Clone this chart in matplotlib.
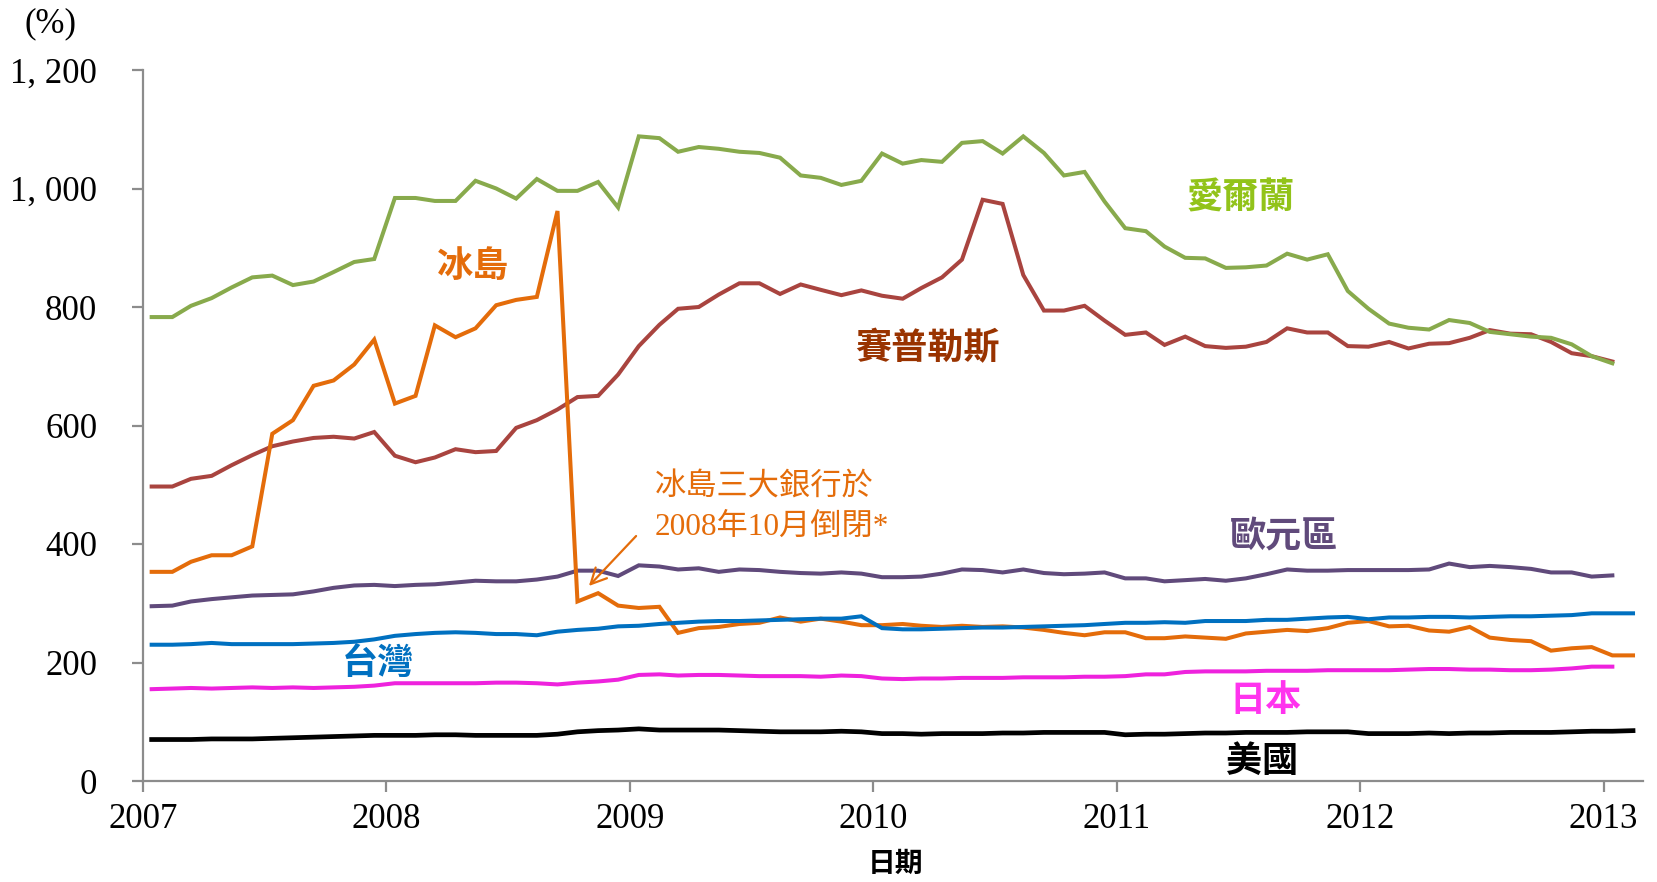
import pandas as pd
import matplotlib
matplotlib.use('Agg')
import matplotlib.pyplot as plt
import matplotlib.dates as mdates
from matplotlib.ticker import FuncFormatter

# monthly observations, Jan 2007 - Feb 2013
months = pd.date_range('2007-01-01', periods=74, freq='MS')

ireland = [783, 783, 802, 815, 833, 850, 853, 837, 843, 859, 876, 881,
           984, 984, 979, 979, 1013, 1000, 983, 1016, 996, 996, 1011, 968,
           1088, 1085, 1062, 1070, 1067, 1062, 1060, 1052, 1022, 1018, 1006, 1013,
           1059, 1042, 1048, 1045, 1077, 1080, 1059, 1088, 1060, 1022, 1028, 978,
           933, 928, 902, 883, 882, 866, 867, 870, 890, 880, 889, 827,
           797, 772, 765, 762, 778, 773, 758, 754, 750, 748, 737, 717, 705]

cyprus = [497, 497, 510, 515, 533, 550, 565, 573, 579, 581, 578, 589,
          549, 538, 546, 560, 555, 557, 596, 609, 627, 648, 650, 686,
          734, 770, 797, 800, 821, 840, 840, 822, 838, 829, 820, 828,
          819, 814, 832, 850, 880, 981, 974, 854, 794, 794, 802, 777,
          753, 757, 736, 750, 734, 731, 733, 741, 764, 757, 757, 734,
          733, 741, 730, 738, 739, 748, 761, 755, 754, 741, 722, 717, 708]

iceland = [353, 353, 370, 381, 381, 396, 586, 609, 667, 676, 703, 745,
           637, 650, 769, 749, 764, 803, 812, 817, 962, 303, 317, 296,
           292, 294, 250, 258, 260, 265, 267, 276, 269, 274, 269, 263,
           263, 265, 262, 260, 262, 260, 261, 259, 255, 250, 246, 251,
           251, 241, 241, 244, 242, 240, 249, 252, 255, 253, 258, 267,
           270, 261, 262, 254, 252, 260, 242, 238, 236, 220, 224, 226,
           212, 212]

euro = [295, 296, 303, 307, 310, 313, 314, 315, 320, 326, 330, 331,
        329, 331, 332, 335, 338, 337, 337, 340, 345, 355, 355, 346,
        364, 362, 357, 359, 353, 357, 356, 353, 351, 350, 352, 350,
        344, 344, 345, 350, 357, 356, 352, 357, 351, 349, 350, 352,
        342, 342, 337, 339, 341, 338, 342, 349, 357, 355, 355, 356,
        356, 356, 356, 357, 367, 361, 363, 361, 358, 352, 352, 345, 347]

taiwan = [230, 230, 231, 233, 231, 231, 231, 231, 232, 233, 235, 239,
          245, 248, 250, 251, 250, 248, 248, 246, 252, 255, 257, 261,
          262, 265, 267, 269, 270, 270, 271, 272, 273, 274, 274, 278,
          258, 256, 256, 257, 258, 259, 259, 260, 261, 262, 263, 265,
          267, 267, 268, 267, 270, 270, 270, 272, 272, 274, 276, 277,
          273, 276, 276, 277, 277, 276, 277, 278, 278, 279, 280, 283,
          283, 283]

japan = [155, 156, 157, 156, 157, 158, 157, 158, 157, 158, 159, 161,
         165, 165, 165, 165, 165, 166, 166, 165, 163, 166, 168, 171,
         179, 180, 178, 179, 179, 178, 177, 177, 177, 176, 178, 177,
         173, 172, 173, 173, 174, 174, 174, 175, 175, 175, 176, 176,
         177, 180, 180, 184, 185, 185, 185, 186, 186, 186, 187, 187,
         187, 187, 188, 189, 189, 188, 188, 187, 187, 188, 190, 193, 193]

usa = [70, 70, 70, 71, 71, 71, 72, 73, 74, 75, 76, 77,
       77, 77, 78, 78, 77, 77, 77, 77, 79, 83, 85, 86,
       88, 86, 86, 86, 86, 85, 84, 83, 83, 83, 84, 83,
       80, 80, 79, 80, 80, 80, 81, 81, 82, 82, 82, 82,
       78, 79, 79, 80, 81, 81, 82, 82, 82, 83, 83, 83,
       80, 80, 80, 81, 80, 81, 81, 82, 82, 82, 83, 84,
       84, 85]

series = [
    (cyprus, '#a9443f', 2.9),
    (ireland, '#88aa4c', 2.9),
    (euro, '#604a7b', 2.9),
    (iceland, '#e46c0a', 2.9),
    (taiwan, '#0070c0', 2.9),
    (japan, '#ee22dd', 2.9),
    (usa, '#000000', 3.4),
]

W, H = 1657, 882
SERIF = 'Liberation Serif'
CJK = 'Noto Sans CJK TC'

fig = plt.figure(figsize=(W / 100, H / 100), dpi=100)
ax = fig.add_axes([143 / W, 1 - 781 / H, 1500 / W, 711 / H])

xpos = months + pd.Timedelta(days=13)
for values, color, lw in series:
    ax.plot(xpos[:len(values)], values, color=color, lw=lw, solid_joinstyle='miter')

ax.set_ylim(0, 1200)
ax.set_xlim(pd.Timestamp('2007-01-01'), pd.Timestamp('2013-03-01'))
ax.set_yticks(range(0, 1201, 200))
ax.yaxis.set_major_formatter(FuncFormatter(lambda v, p: f'{int(v):,}'.replace(',', ', ')))
ax.xaxis.set_major_locator(mdates.YearLocator())
ax.xaxis.set_major_formatter(mdates.DateFormatter('%Y'))

for side in ['top', 'right']:
    ax.spines[side].set_visible(False)
for side in ['left', 'bottom']:
    ax.spines[side].set_color('#8c8c8c')
    ax.spines[side].set_linewidth(1.6)

ax.tick_params(axis='both', direction='out', length=8, width=1.6, color='#8c8c8c')
ax.tick_params(axis='y', pad=25)
ax.tick_params(axis='x', pad=8)
for lab in ax.get_xticklabels() + ax.get_yticklabels():
    lab.set_fontfamily(SERIF)
    lab.set_fontsize(25)


def put(text, x, y, color, size=26, weight='bold', ha='center', family=CJK):
    fig.text(x / W, 1 - y / H, text, color=color, fontsize=size, fontweight=weight,
             ha=ha, va='center', family=family)


put('(%)', 50, 24, 'black', size=25, weight='normal', family=SERIF)
put('冰島', 473, 266, '#e46c0a')
put('賽普勒斯', 927, 349, '#993300')
put('愛爾蘭', 1241, 198, '#92c31a')
put('歐元區', 1284, 537, '#604a7b')
put('台灣', 378, 664, '#0070c0')
put('日本', 1266, 700, '#ff33ee')
put('美國', 1262, 761, '#000000')
put('日期', 895, 864, '#000000', size=20)

note_font = [SERIF, CJK]
put('冰島三大銀行於', 655, 488, '#e46c0a', size=22.5, weight='normal', ha='left', family=note_font)
put('2008年10月倒閉*', 655, 527, '#e46c0a', size=22.5, weight='normal', ha='left', family=note_font)

fig.patches.append(matplotlib.patches.FancyArrowPatch(
    (638 / W, 1 - 534 / H), (587 / W, 1 - 588 / H), transform=fig.transFigure,
    arrowstyle='->', mutation_scale=28, color='#e46c0a', lw=1.6))

fig.savefig('out.png', dpi=100)
